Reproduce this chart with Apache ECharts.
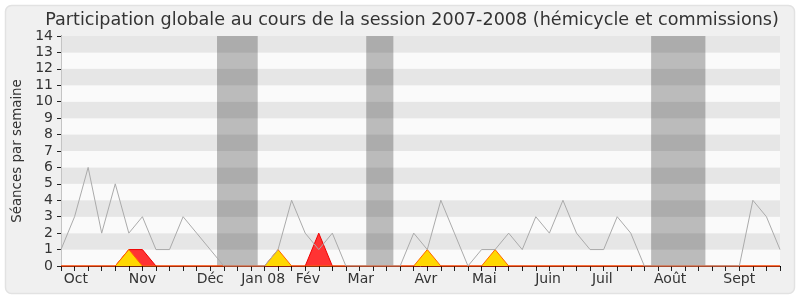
<!DOCTYPE html>
<html>
<head>
<meta charset="utf-8">
<script src="https://cdn.jsdelivr.net/npm/echarts@6/dist/echarts.min.js"></script>
<style>html,body{margin:0;padding:0;background:#fff}#c{width:800px;height:300px}</style>
</head>
<body>
<div id="c"></div>
<script>
var titleText = 'Participation globale au cours de la session 2007-2008 (hémicycle et commissions)';
var yName = 'Séances par semaine';
// weekly values (54 weeks, index 0..53)
var totalSeances = [1,3,6,2,5,2,3,1,1,3,2,1,0,0,0,0,1,4,2,1,2,0,0,0,0,0,2,1,4,2,0,1,1,2,1,3,2,4,2,1,1,3,2,0,0,0,0,0,0,0,0,4,3,1];
var redSeances    = [0,0,0,0,0,1,1,0,0,0,0,0,0,0,0,0,0,0,0,2,0,0,0,0,0,0,0,0,0,0,0,0,0,0,0,0,0,0,0,0,0,0,0,0,0,0,0,0,0,0,0,0,0,0];
var yellowSeances = [0,0,0,0,0,1,0,0,0,0,0,0,0,0,0,0,1,0,0,0,0,0,0,0,0,0,0,1,0,0,0,0,1,0,0,0,0,0,0,0,0,0,0,0,0,0,0,0,0,0,0,0,0,0];
// vacation periods (first and last week index)
var vacStart = [12, 23, 44];
var vacEnd   = [14, 24, 47];
// month labels and their positions on the week axis
var monthLabels = ['Oct','Nov','Déc','Jan 08','Fév','Mar','Avr','Mai','Juin','Juil','Août','Sept'];
var monthPos    = [1.1, 6, 11, 14.9, 18.2, 22.1, 26.9, 31.2, 35.9, 39.9, 44.9, 50];
var yTicks = [0,1,2,3,4,5,6,7,8,9,10,11,12,13,14];

function pairs(arr){ return arr.map(function(v,i){ return [i, v]; }); }
var nWeeks = totalSeances.length - 1;
var font = 'DejaVu Sans';

var chart = echarts.init(document.getElementById('c'), null, {renderer:'canvas'});
chart.setOption({
  backgroundColor: '#ffffff',
  animation: false,
  graphic: [{
    type: 'rect', z: -10, silent: true,
    shape: {x: 5.5, y: 5.5, width: 789, height: 288, r: 6},
    style: {fill: '#f0f0f0', stroke: '#e2e2e2', lineWidth: 1.5}
  }],
  title: {
    text: titleText, left: 407, top: 6, textAlign: 'center',
    textStyle: {fontFamily: font, fontSize: 17.6, fontWeight: 'normal', color: '#333333'}
  },
  grid: {left: 61, top: 36, width: 719, height: 230, containLabel: false},
  xAxis: [{
    type: 'value', min: 0, max: nWeeks, interval: 1, position: 'bottom',
    axisLine: {show: true, onZero: false, lineStyle: {color: '#6e2610', width: 1}},
    axisTick: {show: true, length: 5, lineStyle: {color: '#222'}},
    axisLabel: {
      show: true, customValues: monthPos, margin: 6,
      fontFamily: font, fontSize: 14, color: '#333',
      formatter: function(v){
        for (var i = 0; i < monthPos.length; i++) if (Math.abs(monthPos[i]-v) < 1e-6) return monthLabels[i];
        return '';
      }
    },
    splitLine: {show: false}
  },{
    type: 'value', min: 0, max: nWeeks, interval: 1, position: 'top',
    axisLine: {show: false},
    axisTick: {show: true, inside: true, length: 1.5, lineStyle: {color: '#000'}},
    axisLabel: {show: false},
    splitLine: {show: false}
  }],
  yAxis: [{
    type: 'value', min: 0, max: 14, interval: 1,
    name: yName, nameLocation: 'middle', nameGap: 36,
    nameTextStyle: {fontFamily: font, fontSize: 13.4, color: '#333'},
    axisLine: {show: true, lineStyle: {color: '#222'}},
    axisTick: {show: true, length: 4, lineStyle: {color: '#222'}},
    axisLabel: {fontFamily: font, fontSize: 14, color: '#333', margin: 8,
      formatter: function(v){ return yTicks.indexOf(v) >= 0 ? String(v) : ''; }},
    splitLine: {show: false},
    splitArea: {show: true, areaStyle: {color: ['#fafafa', '#e6e6e6']}}
  },{
    type: 'value', min: 0, max: 14, interval: 1, position: 'right',
    axisLine: {show: true, lineStyle: {color: '#c4c4c4'}},
    axisTick: {show: false}, axisLabel: {show: false},
    splitLine: {show: false}, splitArea: {show: false}
  }],
  series: [{
    type: 'line', name: 'vacances', data: [], z: 1,
    markArea: {
      silent: true,
      itemStyle: {color: 'rgba(0,0,0,0.25)'},
      data: vacStart.map(function(s, i){ return [{xAxis: s - 0.5}, {xAxis: vacEnd[i] + 0.5}]; })
    }
  },{
    type: 'line', name: 'rouge', data: pairs(redSeances), z: 3,
    symbol: 'none', lineStyle: {color: '#ee0000', width: 1},
    areaStyle: {color: '#ff3333', opacity: 1}
  },{
    type: 'line', name: 'jaune', data: pairs(yellowSeances), z: 4,
    symbol: 'none', lineStyle: {color: '#ff6600', width: 1},
    areaStyle: {color: '#ffd700', opacity: 1}
  },{
    type: 'line', name: 'total', data: pairs(totalSeances), z: 5,
    symbol: 'none', lineStyle: {color: '#aaaaaa', width: 1}
  }]
});
</script>
</body>
</html>
